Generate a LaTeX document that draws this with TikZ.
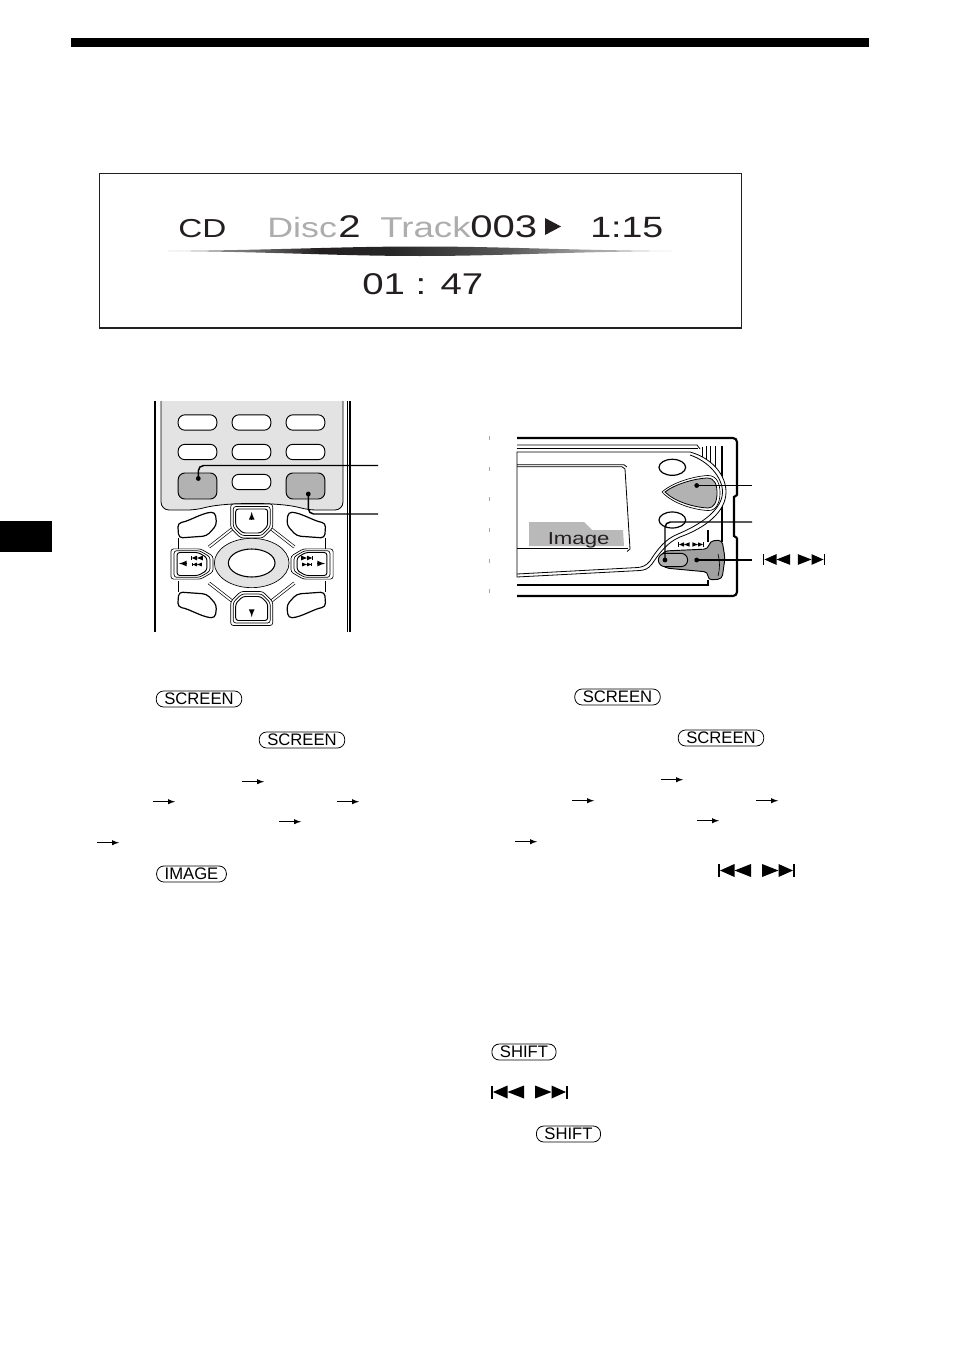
\documentclass[tikz,border=0pt]{standalone}
\usepackage{fontspec}
\usetikzlibrary{shapes.geometric}
\newfontfamily\lcdfont[FakeStretch=1.28]{Liberation Sans}
\newfontfamily\keyfont{Liberation Sans}
\definecolor{ink}{HTML}{231F20}
\definecolor{lcdgrey}{gray}{.68}
\definecolor{facegrey}{gray}{.89}
\definecolor{pressgrey}{gray}{.70}
\pgfdeclarehorizontalshading{barshade}{100bp}{
  color(0bp)=(black!35); color(25bp)=(black!35); color(33bp)=(black!55); color(40bp)=(ink);
  color(47bp)=(black!85); color(59bp)=(black!65); color(67bp)=(black!35); color(75bp)=(black!25); color(100bp)=(black!25)}
\tikzset{
  lcdtext/.style={anchor=base west, inner sep=0pt, text=ink, font=\lcdfont\fontsize{#1}{#1}\selectfont},
  capkey/.style={draw, line width=.6pt, rounded corners=5.5pt, inner xsep=6pt, inner ysep=0pt,
    minimum height=12pt, font=\keyfont\fontsize{12.5pt}{12.5pt}\selectfont},
  softkey/.style={draw, line width=.7pt, fill=white, rounded corners=5pt, minimum width=29pt, minimum height=11.5pt, inner sep=0pt},
  presskey/.style={softkey, fill=pressgrey, minimum height=19.5pt},
  ovalkey/.style={draw, ellipse, line width=.9pt, fill=white, inner sep=0pt, minimum width=20pt, minimum height=12pt},
  dotmark/.style={circle, fill=black, inner sep=0pt, minimum size=3.6pt},
  leader/.style={line width=1.1pt, rounded corners=4pt},
  flowarrow/.style={-latex, line width=.8pt},
  tinyarrow/.style={-latex, line width=1pt},
  padline/.style={line width=.5pt, double=white, double distance=1.3pt},
  skipback/.pic={
    \fill (-16.5,-6.5) rectangle (-14.5,6.5);
    \fill (-14.5,0) -- (0,-6.5) -- (0,6.5) -- cycle;
    \fill (0,0) -- (16.5,-6.5) -- (16.5,6.5) -- cycle;
  },
  padkey/.pic={
    \draw[line width=.5pt, fill=white, rounded corners=2pt] (-21,-17) -- (21,-17) -- (21,7) -- (11,17) -- (-11,17) -- (-21,7) -- cycle;
    \draw[line width=.5pt, rounded corners=2pt] (-18.5,-14.5) -- (18.5,-14.5) -- (18.5,6) -- (10,14.5) -- (-10,14.5) -- (-18.5,6) -- cycle;
    \draw[line width=.7pt, rounded corners=2pt] (-16,-12) -- (16,-12) -- (16,5) -- (9,12) -- (-9,12) -- (-16,5) -- cycle;
  },
  cornerkey/.pic={
    \draw[line width=.9pt, fill=white, rounded corners=3pt] (-74,-42) .. controls (-62,-44) and (-50,-52) .. (-36.5,-53) -- (-35,-40) -- (-45,-29) -- (-73,-27) -- cycle;
  },
}

\begin{document}
\begin{tikzpicture}[x=.75pt, y=-.75pt]
    \useasboundingbox (0,0) rectangle (954,1352);

    % Page marks
    \fill[black] (71,38) rectangle (869,47);
    \fill[black] (0,521) rectangle (52,552);

    % Screen box
    \draw[line width=.6pt, ink] (99.5,328) -- (99.5,173.5) -- (741.5,173.5) -- (741.5,328);
    \draw[line width=1.1pt, ink] (99,328) -- (742,328);
    \node[lcdtext=19.5pt] (cd) at (178,237) {CD};
    \node[lcdtext=21pt, text=lcdgrey] (disc) at (267,237) {Disc};
    \node[lcdtext=23.5pt] (discno) at (338,237) {2};
    \node[lcdtext=21.5pt, text=lcdgrey] (track) at (380,237) {Track};
    \node[lcdtext=23.5pt] (trackno) at (470,237) {003};
    \fill[ink] (545,218) -- (561,226.5) -- (545,235) -- cycle;
    \node[lcdtext=22pt] (time) at (590,237) {1:15};
    \node[lcdtext=22.5pt] (clock) at (362,294) {01 : 47};
    \path[shading=barshade] (168,251) .. controls (280,250) and (340,246.5) .. (420,246.5) .. controls (500,246.5) and (560,250) .. (672,251) .. controls (560,252) and (500,256) .. (420,256) .. controls (340,256) and (280,252) .. (168,251) -- cycle;

    % Remote body
    \draw[line width=1.2pt] (155,401) -- (155,632);
    \draw[line width=.6pt] (347,401) -- (347,632);
    \draw[line width=1.4pt] (350,401) -- (350,632);
    \draw[line width=.6pt, fill=facegrey, rounded corners=6pt] (161,396) -- (161,510) -- (196,510) .. controls (225,502) and (280,502) .. (308,510) -- (343,510) -- (343,396);
    \fill[white] (150,380) rectangle (360,401);
    \draw[line width=1.2pt] (155,401) -- (155,410);
    \draw[line width=.6pt] (347,401) -- (347,410);
    \draw[line width=1.4pt] (350,401) -- (350,410);

    % Remote keys
    \node[softkey] (ka) at (197.5,422.5) {};
    \node[softkey] (kb) at (251.5,422.5) {};
    \node[softkey] (kc) at (305.5,422.5) {};
    \node[softkey] (kd) at (197.5,452) {};
    \node[softkey] (ke) at (251.5,452) {};
    \node[softkey] (kf) at (305.5,452) {};
    \node[presskey] (kscreen) at (197.5,486) {};
    \node[softkey] (kg) at (251.5,482) {};
    \node[presskey] (kimage) at (305.5,486) {};

    % Remote pad
    \draw[padline] (232,529) -- (209,547);
    \draw[padline] (271.4,529) -- (294.4,547);
    \draw[padline] (232,601) -- (209,583);
    \draw[padline] (271.4,601) -- (294.4,583);
    \draw[line width=.6pt] (178,538) -- (178,549);
    \draw[line width=.6pt] (325.4,538) -- (325.4,549);
    \draw[line width=.6pt] (178,592) -- (178,581);
    \draw[line width=.6pt] (325.4,592) -- (325.4,581);
    \pic at (251.7,565) {cornerkey};
    \pic[xscale=-1] at (251.7,565) {cornerkey};
    \pic[yscale=-1] at (251.7,565) {cornerkey};
    \pic[scale=-1] at (251.7,565) {cornerkey};
    \node[draw, ellipse, line width=.5pt, fill=facegrey, inner sep=0pt, minimum width=56pt, minimum height=37pt] (padring) at (251.7,563) {};
    \node[draw, ellipse, line width=.8pt, fill=white, inner sep=0pt, minimum width=35pt, minimum height=21pt] (enter) at (251.7,563) {};
    \pic at (251.7,521) {padkey};
    \pic[yscale=-1] at (251.7,608.5) {padkey};
    \pic[rotate=90, xscale=.72, yscale=1.24] at (192,564) {padkey};
    \pic[rotate=-90, xscale=.72, yscale=1.24] at (312,564) {padkey};
    \coordinate (ua) at (251.7,519);
    \coordinate (ub) at (251.7,512);
    \draw[tinyarrow] (ua) -- (ub);
    \coordinate (da) at (251.7,610);
    \coordinate (db) at (251.7,617);
    \draw[tinyarrow] (da) -- (db);
    \coordinate (la) at (187,563.5);
    \coordinate (lb) at (179,563.5);
    \draw[tinyarrow] (la) -- (lb);
    \coordinate (ra) at (317,563.5);
    \coordinate (rb) at (325,563.5);
    \draw[tinyarrow] (ra) -- (rb);
    \pic[scale=.36] at (197,558) {skipback};
    \pic[scale=.3] at (197,564.5) {skipback};
    \pic[scale=.36, xscale=-1] at (307,558) {skipback};
    \pic[scale=.3, xscale=-1] at (307,564.5) {skipback};

    % Remote leaders
    \node[dotmark] (da1) at (198.3,478.5) {};
    \node[dotmark] (da2) at (308.3,494) {};
    \coordinate (ea1) at (378,465.5);
    \coordinate (ea2) at (378,514);
    \draw[leader] (da1.center) |- (ea1);
    \draw[leader] (da2.center) |- (ea2);

    % Unit body
    \draw[line width=.4pt, gray!70, dash pattern=on 3pt off 20pt] (489.5,436) -- (489.5,598);
    \draw[line width=1.6pt, rounded corners=3pt] (517,438) -- (737,438) -- (737,495.5);
    \draw[line width=1.6pt] (737,495) -- (734,497) -- (734,536) -- (737,538);
    \draw[line width=1.6pt, rounded corners=3pt] (737,537.5) -- (737,596) -- (517,596);
    \draw[line width=.6pt] (517,445) -- (697,445) -- (700,449);
    \draw[line width=.6pt] (517,448.5) -- (698,448.5);
    \draw[line width=.7pt] (702,447) -- (702,458);
    \draw[line width=.7pt] (706,446) -- (706,462);
    \draw[line width=.7pt] (710,446) -- (710,466);
    \draw[line width=.7pt] (715,446) -- (715,472);
    \draw[line width=1pt] (722,446) -- (722,542);
    \draw[line width=1pt] (708,530) -- (708,542);

    % Unit face
    \draw[line width=.6pt, fill=white] (517,452) -- (690,452) .. controls (712,458) and (726,475) .. (726,492) .. controls (726,512) and (705,528) .. (680,537) .. controls (668,542) and (660,552) .. (652,564) .. controls (648,569) and (645,570) .. (640,570.5) -- (517,577) -- cycle;
    \draw[line width=.6pt] (690,455) .. controls (708,461) and (722.5,477) .. (722.5,492) .. controls (722.5,509) and (702,524) .. (678,534) .. controls (665,539) and (657,550) .. (650,561) .. controls (646,566) and (642,567) .. (638,567.5) -- (517,574);
    \draw[line width=.6pt] (517,466.7) -- (622,466.7) -- (625,469) -- (630,549) -- (627,551.5);
    \draw[line width=.6pt] (517,464.8) -- (624,464.8) -- (627,467);
    \draw[line width=.6pt] (517,548.5) -- (628,548.5);
    \fill[gray!55] (529,546) -- (529,522) -- (584,522) -- (592,530) -- (623,530) -- (624,546) -- cycle;
    \node[lcdtext=13pt, text=ink] (imagetag) at (547.5,544) {Image};

    % Unit keys
    \node[ovalkey] (ua1) at (672.3,467.3) {};
    \node[ovalkey] (ua2) at (672.3,520) {};
    \draw[line width=.5pt, fill=white] (662,492) .. controls (673,482) and (695,476) .. (708,475.5) .. controls (717,475.5) and (720,484) .. (720,493) .. controls (720,503) and (716,511) .. (708,510.5) .. controls (695,510) and (673,504) .. (662,492) -- cycle;
    \draw[line width=.6pt, fill=pressgrey] (665,492) .. controls (675,484) and (695,478.5) .. (707,478) .. controls (715,478) and (717,485) .. (717,493) .. controls (717,502) and (714,508) .. (708,508) .. controls (695,507.5) and (675,502) .. (665,492) -- cycle;
    \fill[white] (677,541) rectangle (707,548);
    \pic[scale=.34] at (684,544.5) {skipback};
    \pic[scale=.34, xscale=-1] at (698,544.5) {skipback};
    \draw[line width=.7pt, fill=pressgrey!90!black, rounded corners=3pt] (708,549) -- (710,541) -- (722,540) -- (725,558) -- (722,579) -- (708,580) -- (708,572) -- (665,568) -- (658,560) -- (664,551) -- cycle;
    \draw[line width=.5pt] (718,554) .. controls (720,562) and (720,568) .. (718,576);
    \node[draw, line width=.7pt, fill=pressgrey, rounded corners=5pt, minimum width=22pt, minimum height=10pt, inner sep=0pt] (kshift) at (673,560) {};
    \draw[line width=1pt] (517,585) -- (708,585) -- (708,580);

    % Unit leaders
    \node[dotmark] (db1) at (696.7,485.5) {};
    \node[dotmark] (db2) at (665,560) {};
    \node[dotmark] (db3) at (696.7,560) {};
    \coordinate (eb1) at (752,485.5);
    \coordinate (eb2) at (752,522);
    \coordinate (eb3) at (752,560);
    \draw[leader] (db1.center) -- (eb1);
    \draw[leader] (db2.center) |- (eb2);
    \draw[leader] (db3.center) -- (eb3);
    \pic[scale=.83] at (776.5,559.5) {skipback};
    \pic[scale=.83, xscale=-1] at (811.5,559.5) {skipback};

    % Keys in the text
    \node[capkey] (sa) at (199,699) {SCREEN};
    \node[capkey] (sb) at (302,740) {SCREEN};
    \node[capkey] (im) at (191.5,874) {IMAGE};
    \node[capkey] (sc) at (617.5,697) {SCREEN};
    \node[capkey] (sd) at (721,738) {SCREEN};
    \node[capkey] (sh) at (524,1052) {SHIFT};
    \node[capkey] (si) at (568.5,1134) {SHIFT};
    \pic at (734.5,870.5) {skipback};
    \pic[xscale=-1] at (778.5,870.5) {skipback};
    \pic at (507.5,1092) {skipback};
    \pic[xscale=-1] at (551.5,1092) {skipback};

    % Arrows in the text
    \foreach \n/\x/\y in {a/242/781.7, b/153/801.7, c/337/801.7, d/279/821.7, e/97/842.7,
                          f/661/779.7, g/572/800.7, h/756/800.7, i/697/820.7, j/515/841.7} {
        \coordinate (fs\n) at (\x,\y);
        \coordinate (fe\n) at (\x+22,\y);
        \draw[flowarrow] (fs\n) -- (fe\n);
    }
\end{tikzpicture}
\end{document}
